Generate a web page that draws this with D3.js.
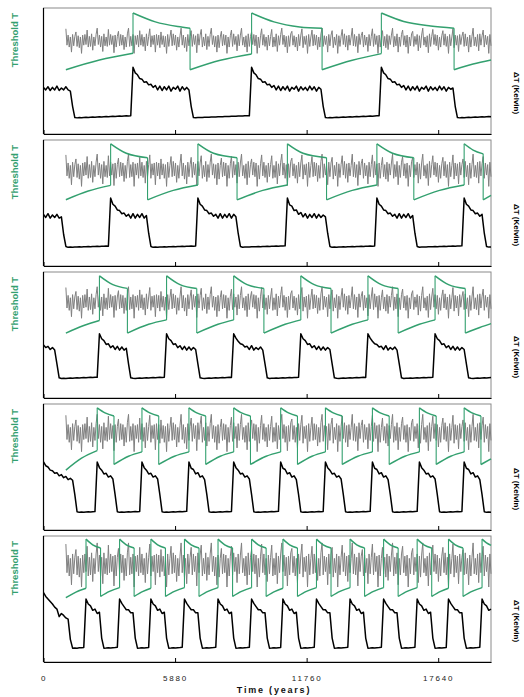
<!DOCTYPE html>
<html>
<head>
<meta charset="utf-8">
<script src="https://cdn.jsdelivr.net/npm/d3@7"></script>
<style>
  body { margin: 0; background: #fff; }
  text { font-family: "Liberation Sans", Arial, sans-serif; }
</style>
</head>
<body>
<div id="chart"></div>
<script>
// ---- data ----
const tickYears = [0, 5880, 11760, 17640];
const sampleStep = 100;      // years between ΔT samples
const forcingStep = 50;      // years between forcing samples
const forcingStart = 1000;   // forcing is shown from this year on

// forcing shape (normalised), one sample every 50 years from year 1000
const forcing = [
  0.95, -0.35, 0.45, -0.5, 0.3, -0.9, 0.5, -0.4, 0.35, 0.7, -0.45, 0.4, -0.55, 0.3, -1.0, 0.45, -0.35, 0.5, -0.3, 0.85,
  -0.5, 0.35, -0.45, 0.55, -0.75, 0.3, -0.4, 0.5, 1.0, -0.3, 0.45, -0.5, 0.35, -0.85, 0.55, -0.4, 0.3, -0.45, 0.9, -0.35,
  0.5, -0.3, 0.4, -0.95, 0.45, -0.5, 0.35, 0.75, -0.4, 0.5, -0.35, 0.45, -0.7, 0.3, -0.5, 0.55, 1.0, -0.45, 0.35, -0.4,
  0.5, -1.0, 0.4, -0.3, 0.45, -0.5, 0.8, -0.35, 0.5, -0.45, 0.3, -0.8, 0.55, -0.4, 0.35, 0.95, -0.5, 0.4, -0.3, 0.45,
  -0.9, 0.5, -0.35, 0.45, -0.55, 0.7, -0.3, 0.4, -0.5, 0.35, -1.0, 0.5, -0.45, 0.3, 0.85, -0.4, 0.55, -0.35, 0.45, -0.75,
  0.3, -0.5, 0.4, 1.0, -0.35, 0.45, -0.55, 0.3, -0.85, 0.5, -0.4, 0.35, 0.8, -0.45, 0.5, -0.3, 0.4, -0.95, 0.55, -0.35,
  0.45, 0.9, -0.5, 0.3, -0.4, 0.55, -0.7, 0.35, -0.45, 0.5, 1.0, -0.3, 0.4, -0.5, 0.35, -0.9, 0.45, -0.55, 0.3, 0.75,
  -0.4, 0.5, -0.35, 0.45, -1.0, 0.3, -0.5, 0.4, 0.85, -0.45, 0.55, -0.3, 0.35, -0.8, 0.5, -0.4, 0.45, 1.0, -0.35, 0.3,
  -0.5, 0.4, -0.9, 0.55, -0.45, 0.35, 0.7, -0.3, 0.5, -0.4, 0.45, -1.0, 0.3, -0.55, 0.4, 0.95, -0.35, 0.5, -0.45, 0.3,
  -0.75, 0.45, -0.4, 0.35, 0.9, -0.5, 0.3, -0.45, 0.55, -0.85, 0.4, -0.35, 0.5, 1.0, -0.3, 0.45, -0.5, 0.35, -0.95, 0.4,
  -0.45, 0.55, 0.75, -0.35, 0.4, -0.5, 0.3, -0.8, 0.5, -0.4, 0.45, 0.95, -0.55, 0.35, -0.3, 0.4, -1.0, 0.5, -0.45, 0.3,
  0.85, -0.4, 0.5, -0.35, 0.45, -0.7, 0.3, -0.5, 0.55, 1.0, -0.45, 0.4, -0.3, 0.35, -0.9, 0.5, -0.4, 0.45, 0.8, -0.55,
  0.3, -0.35, 0.5, -1.0, 0.4, -0.45, 0.35, 0.9, -0.3, 0.55, -0.5, 0.4, -0.75, 0.45, -0.35, 0.3, 1.0, -0.4, 0.5, -0.45,
  0.35, -0.95, 0.55, -0.3, 0.4, 0.7, -0.5, 0.45, -0.35, 0.3, -0.85, 0.5, -0.4, 0.35, 0.95, -0.45, 0.55, -0.3, 0.4, -1.0,
  0.45, -0.5, 0.3, 0.8, -0.4, 0.35, -0.55, 0.5, -0.7, 0.4, -0.3, 0.45, 1.0, -0.5, 0.35, -0.4, 0.55, -0.9, 0.3, -0.45,
  0.5, 0.85, -0.35, 0.4, -0.5, 0.45, -1.0, 0.3, -0.4, 0.55, 0.75, -0.45, 0.35, -0.3, 0.5, -0.8, 0.4, -0.55, 0.45, 1.0,
  -0.35, 0.3, -0.5, 0.4, -0.95, 0.55, -0.45, 0.35, 0.9, -0.3, 0.5, -0.4, 0.45, -0.75, 0.3, -0.5, 0.4, 0.8, -0.35, 0.55,
  -0.45, 0.35, -1.0, 0.5, -0.4, 0.3, 0.95, -0.55, 0.45, -0.35, 0.4, -0.85, 0.5, -0.3, 0.35, 0.7, -0.45, 0.55, -0.4, 0.3,
  -0.9, 0.45, -0.5, 0.35, 1.0, -0.4, 0.3, -0.45, 0.5, -0.8, 0.55, -0.35, 0.4, 0.85, -0.5, 0.45, -0.3, 0.35, -1.0, 0.5,
  -0.4
];
const forcingMid = [74, 76, 75.8, 77, 77];
const forcingAmp = [10, 12.8, 12.5, 14.8, 17.5];

// threshold T, [year, value]; a repeated year is a jump
const threshold1 = [
  [1000, 51], [2500, 58.7], [4000, 64],
  [4000, 96], [5000, 89], [6000, 85.3], [6550, 84],
  [6550, 51], [7900, 58.5], [9300, 63.5],
  [9300, 96], [10300, 89], [11450, 85], [12450, 84],
  [12450, 51], [13800, 58.5], [15100, 63.8],
  [15100, 96], [16100, 89.3], [17300, 85.7], [18350, 84],
  [18350, 51], [19200, 55.5], [20000, 58.8]
];
const threshold2 = [
  [1000, 52.6], [2000, 59.5], [3000, 64],
  [3000, 97], [3700, 89.5], [4650, 86],
  [4650, 52.5], [5800, 60], [6900, 64.3],
  [6900, 97], [7600, 89.5], [8650, 86],
  [8650, 52.5], [9800, 60], [10900, 64.3],
  [10900, 97], [11600, 89.5], [12650, 86],
  [12650, 52.5], [13800, 60], [14900, 64.3],
  [14900, 97], [15600, 89.5], [16550, 86],
  [16550, 52.5], [17700, 60], [18800, 64.3],
  [18800, 97], [19200, 92], [19650, 89],
  [19650, 52.5], [20000, 56]
];
const threshold3 = [
  [1000, 51.5], [1800, 57.5], [2500, 61.5],
  [2500, 97], [3100, 90], [3750, 87],
  [3750, 51.5], [4700, 58.5], [5500, 62],
  [5500, 97], [6100, 90], [6850, 87],
  [6850, 51.5], [7800, 58.5], [8500, 62],
  [8500, 97], [9100, 90], [9850, 87],
  [9850, 51.5], [10800, 58.5], [11500, 62],
  [11500, 97], [12100, 90], [12850, 87],
  [12850, 51.5], [13800, 58.5], [14500, 62],
  [14500, 97], [15100, 90], [15850, 87],
  [15850, 51.5], [16800, 58.5], [17500, 62],
  [17500, 97], [18100, 90], [18850, 87],
  [18850, 51.5], [19500, 56], [20000, 59]
];
const threshold4 = [
  [1000, 47.5], [1700, 57], [2400, 63],
  [2400, 97], [2750, 93], [3150, 90.5],
  [3150, 52], [3800, 58.5], [4400, 62],
  [4400, 97], [4750, 93], [5150, 90.5],
  [5150, 52], [5850, 58.5], [6500, 62],
  [6500, 97], [6850, 93], [7250, 90.5],
  [7250, 52], [7900, 58.5], [8500, 62],
  [8500, 97], [8850, 93], [9250, 90.5],
  [9250, 52], [9950, 58.5], [10600, 62],
  [10600, 97], [10950, 93], [11350, 90.5],
  [11350, 52], [12000, 58.5], [12600, 62],
  [12600, 97], [12950, 93], [13350, 90.5],
  [13350, 52], [14050, 58.5], [14700, 62],
  [14700, 97], [15050, 93], [15450, 90.5],
  [15450, 52], [16150, 58.5], [16800, 62],
  [16800, 97], [17150, 93], [17550, 90.5],
  [17550, 52], [18200, 58.5], [18800, 62],
  [18800, 97], [19150, 93], [19550, 90.5],
  [19550, 52], [20000, 56.5]
];
const threshold5 = [
  [1000, 51], [1450, 55.5], [1900, 58.5],
  [1900, 97.5], [2200, 93], [2550, 90.5],
  [2550, 52], [2950, 56], [3400, 59],
  [3400, 97.5], [3700, 93], [4050, 90.5],
  [4050, 52], [4450, 56], [4800, 58.5],
  [4800, 97.5], [5100, 93], [5450, 90.5],
  [5450, 52], [5850, 56], [6300, 59],
  [6300, 97.5], [6600, 93], [6950, 90.5],
  [6950, 52], [7350, 56], [7800, 59],
  [7800, 97.5], [8100, 93], [8450, 90.5],
  [8450, 52], [8850, 56], [9300, 59],
  [9300, 97.5], [9600, 93], [9950, 90.5],
  [9950, 52], [10350, 56], [10700, 58.5],
  [10700, 97.5], [11000, 93], [11350, 90.5],
  [11350, 52], [11750, 56], [12200, 59],
  [12200, 97.5], [12500, 93], [12850, 90.5],
  [12850, 52], [13250, 56], [13700, 59],
  [13700, 97.5], [14000, 93], [14350, 90.5],
  [14350, 52], [14750, 56], [15200, 59],
  [15200, 97.5], [15500, 93], [15850, 90.5],
  [15850, 52], [16250, 56], [16700, 59],
  [16700, 97.5], [17000, 93], [17350, 90.5],
  [17350, 52], [17750, 56], [18100, 58.5],
  [18100, 97.5], [18400, 93], [18750, 90.5],
  [18750, 52], [19150, 56], [19600, 59],
  [19600, 97.5], [19800, 94.5], [20000, 92.5]
];

// ΔT, one sample every 100 years from year 0
const deltaT1 = [
  37, 35, 37.5, 34.5, 37, 35, 38, 34.5, 36.5, 35, 37.5, 35, 34,
  22, 13,
  12.8, 13, 12.9, 13.1, 13.2, 13.1, 13.3, 13.4, 13.3, 13.5, 13.6, 13.5, 13.7, 13.8, 13.7, 13.9, 14, 13.9, 14.1, 14.2, 14.1, 14.3, 14.4, 14.3, 14.5,
  53, 48.5, 47, 44, 43.5, 41, 41.5, 39, 39.5, 37, 38.5, 35, 38, 34.5, 37.5, 35, 38, 34, 37, 35.5, 38, 34, 37.5, 35, 37, 35,
  22, 13,
  12.9, 13, 13.1, 13, 13.2, 13.3, 13.2, 13.4, 13.5, 13.4, 13.6, 13.7, 13.6, 13.8, 13.9, 13.8, 14, 14.1, 14, 14.2, 14.3, 14.2, 14.4, 14.5, 14.4,
  53, 48.5, 47, 44, 43.5, 41, 41.5, 39, 39.5, 37, 38.5, 35, 38, 34.5, 37.5, 35, 38, 34, 37, 35.5, 38, 34, 37.5, 35, 37, 34.5, 38, 35, 37.5, 34, 37, 35.5,
  22, 13,
  12.8, 13, 12.9, 13.1, 13.2, 13.1, 13.3, 13.4, 13.3, 13.5, 13.6, 13.5, 13.7, 13.8, 13.7, 13.9, 14, 13.9, 14.1, 14.2, 14.1, 14.3, 14.4, 14.5,
  53, 48.5, 47, 44, 43.5, 41, 41.5, 39, 39.5, 37, 38.5, 35, 38, 34.5, 37.5, 35, 38, 34, 37, 35.5, 38, 34, 37.5, 35, 37, 34.5, 38, 35, 37.5, 34, 37, 35.5, 36.5,
  22, 13,
  12.8, 13, 12.9, 13.1, 13.2, 13.1, 13.3, 13.4, 13.3, 13.5, 13.6, 13.5, 13.7, 13.8, 13.7
];
const deltaT2 = [
  41, 38.5, 41.5, 38, 40.5, 38.5, 41, 38, 39,
  25, 15.5,
  14.8, 15, 14.9, 15.1, 15, 15.2, 15.1, 15.3, 15.2, 15.4, 15.3, 15.5, 15.4, 15.6, 15.5, 15.7, 15.6, 15.8, 15.7,
  54, 49, 47.5, 44.5, 44, 41.5, 42, 39.5, 41, 38, 41.5, 38, 41, 38.5, 41.5, 38, 40,
  26, 15.5,
  14.8, 15, 14.9, 15.1, 15, 15.2, 15.1, 15.3, 15.2, 15.4, 15.3, 15.5, 15.4, 15.6, 15.5, 15.7, 15.6, 15.8, 15.7, 15.9,
  54, 49, 47.5, 44.5, 44, 41.5, 42, 39.5, 41, 38, 41.5, 38, 41, 38.5, 41.5, 38, 41, 39,
  26, 15.5,
  14.9, 15, 15.1, 15, 15.2, 15.3, 15.2, 15.4, 15.3, 15.5, 15.4, 15.6, 15.5, 15.7, 15.6, 15.8, 15.7, 15.9, 15.8, 16,
  54, 48.5, 47.5, 44, 44.5, 41, 42.5, 39, 41.5, 38, 41, 38.5, 41.5, 38, 41, 38.5, 40.5, 39,
  26, 15.5,
  14.8, 15, 14.9, 15.1, 15, 15.2, 15.1, 15.3, 15.2, 15.4, 15.3, 15.5, 15.4, 15.6, 15.5, 15.7, 15.6, 15.8, 15.7, 15.9,
  54, 49, 47.5, 44.5, 44, 41.5, 42, 39.5, 41, 38, 41.5, 38, 41, 38.5, 41.5, 38, 40,
  26, 15.5,
  14.9, 15, 15.1, 15, 15.2, 15.3, 15.2, 15.4, 15.3, 15.5, 15.4, 15.6, 15.5, 15.7, 15.6, 15.8, 15.7, 15.9, 15.8, 16,
  54, 49, 47.5, 44.5, 44, 41.5, 42, 39.5, 41,
  26, 15.5, 15, 15.1
];
const deltaT3 = [
  42, 40, 41, 38.5, 40, 38,
  27, 16,
  15.5, 15.6, 15.5, 15.7, 15.8, 15.7, 15.9, 16, 15.9, 16.1, 16.2, 16.1, 16.3, 16.4, 16.3, 16.5, 16.4,
  51, 47, 45.5, 42.5, 43, 40, 41.5, 38.5, 41, 38, 40.5, 38, 39.5,
  27, 16,
  15.6, 15.5, 15.7, 15.8, 15.7, 15.9, 16, 15.9, 16.1, 16.2, 16.1, 16.3, 16.4, 16.3, 16.5,
  51, 47, 45.5, 42.5, 43, 40, 41.5, 38.5, 41, 38, 40.5, 38, 40, 38.5,
  27, 16,
  15.6, 15.5, 15.7, 15.8, 15.7, 15.9, 16, 15.9, 16.1, 16.2, 16.1, 16.3, 16.4, 16.3,
  51, 47.5, 45, 43, 42.5, 40.5, 41, 38.5, 41.5, 38, 40, 38.5, 40.5, 38,
  27, 16,
  15.5, 15.7, 15.6, 15.8, 15.7, 15.9, 16, 15.9, 16.1, 16.2, 16.1, 16.3, 16.2, 16.4,
  51, 47, 45.5, 42.5, 43, 40, 41.5, 38.5, 41, 38, 40.5, 38, 40, 38.5,
  27, 16,
  15.6, 15.5, 15.7, 15.8, 15.7, 15.9, 16, 15.9, 16.1, 16.2, 16.1, 16.3, 16.4, 16.3,
  51, 47.5, 45, 43, 42.5, 40.5, 41, 38.5, 41.5, 38, 40, 38.5, 40.5, 38,
  27, 16,
  15.5, 15.7, 15.6, 15.8, 15.7, 15.9, 16, 15.9, 16.1, 16.2, 16.1, 16.3, 16.2, 16.4,
  51, 47, 45.5, 42.5, 43, 40, 41.5, 38.5, 41, 38, 40.5, 38, 40, 38.5,
  27, 16,
  15.6, 15.5, 15.7, 15.8, 15.7, 15.9, 16, 15.9, 16.1, 16.2
];
const deltaT4 = [
  54, 51, 50, 47.5, 47, 45, 45.5, 43, 44, 41.5, 42.5, 40, 41, 39.5,
  28, 14.5,
  14, 14.2, 14.1, 14.3, 14.4, 14.3, 14.5, 14.6,
  54, 49.5, 47.5, 44.5, 45, 42, 43, 40.5,
  28, 14.5,
  14, 14.2, 14.1, 14.3, 14.4, 14.3, 14.5, 14.6, 14.5, 14.7,
  54, 49.5, 47.5, 44.5, 45, 42, 43, 40.5,
  28, 14.5,
  14, 14.2, 14.1, 14.3, 14.4, 14.3, 14.5, 14.6, 14.5, 14.7, 14.8,
  54, 49, 48, 44.5, 45.5, 42, 43, 40,
  28, 14.5,
  14, 14.2, 14.1, 14.3, 14.4, 14.3, 14.5, 14.6, 14.5, 14.7,
  54, 49.5, 47.5, 44.5, 45, 42, 43, 40.5,
  28, 14.5,
  14, 14.2, 14.1, 14.3, 14.4, 14.3, 14.5, 14.6, 14.5, 14.7, 14.8,
  54, 49, 48, 44.5, 45.5, 42, 43, 40,
  28, 14.5,
  14, 14.2, 14.1, 14.3, 14.4, 14.3, 14.5, 14.6, 14.5, 14.7,
  54, 49.5, 47.5, 44.5, 45, 42, 43, 40.5,
  28, 14.5,
  14, 14.2, 14.1, 14.3, 14.4, 14.3, 14.5, 14.6, 14.5, 14.7, 14.8,
  54, 49, 48, 44.5, 45.5, 42, 43, 40,
  28, 14.5,
  14, 14.2, 14.1, 14.3, 14.4, 14.3, 14.5, 14.6, 14.5, 14.7, 14.8,
  54, 49.5, 47.5, 44.5, 45, 42, 43, 40.5,
  28, 14.5,
  14, 14.2, 14.1, 14.3, 14.4, 14.3, 14.5, 14.6, 14.5, 14.7,
  54, 49, 48, 44.5, 45.5, 42, 43, 40,
  28, 14.5,
  14, 14.2, 14.1
];
const deltaT5 = [
  55, 52, 50, 48, 46, 43.5, 42, 36, 38.5, 37, 35, 34,
  18, 11,
  11.2, 11, 11.3, 11.4, 11.6,
  50, 46, 44.5, 41, 42, 38.5, 39.5,
  19, 11,
  11.1, 11.3, 11.2, 11.4, 11.5, 11.7,
  50, 46.5, 44, 41.5, 41.5, 39, 39,
  19, 11,
  11.1, 11.3, 11.2, 11.4, 11.6,
  50, 46, 44.5, 41, 42, 38.5, 39.5,
  19, 11,
  11.1, 11.3, 11.2, 11.4, 11.5, 11.7,
  50, 46.5, 44, 41.5, 41.5, 39, 39,
  19, 11,
  11.1, 11.3, 11.2, 11.4, 11.5, 11.7,
  50, 46, 44.5, 41, 42, 38.5, 39.5,
  19, 11,
  11.1, 11.3, 11.2, 11.4, 11.5, 11.7,
  50, 46.5, 44, 41.5, 41.5, 39, 39,
  19, 11,
  11.1, 11.3, 11.2, 11.4, 11.6,
  50, 46, 44.5, 41, 42, 38.5, 39.5,
  19, 11,
  11.1, 11.3, 11.2, 11.4, 11.5, 11.7,
  50, 46.5, 44, 41.5, 41.5, 39, 39,
  19, 11,
  11.1, 11.3, 11.2, 11.4, 11.5, 11.7,
  50, 46, 44.5, 41, 42, 38.5, 39.5,
  19, 11,
  11.1, 11.3, 11.2, 11.4, 11.5, 11.7,
  50, 46.5, 44, 41.5, 41.5, 39, 39,
  19, 11,
  11.1, 11.3, 11.2, 11.4, 11.5, 11.7,
  50, 46, 44.5, 41, 42, 38.5, 39.5,
  19, 11,
  11.1, 11.3, 11.2, 11.4, 11.6,
  50, 46.5, 44, 41.5, 41.5, 39, 39,
  19, 11,
  11.1, 11.3, 11.2, 11.4, 11.5, 11.7,
  50, 46, 44.5, 41, 42
];

const thresholds = [threshold1, threshold2, threshold3, threshold4, threshold5];
const deltaTs = [deltaT1, deltaT2, deltaT3, deltaT4, deltaT5];

// ---- layout ----
const width = 524, height = 697;
const left = 43.5, right = 491;
const panelTops = [8, 140, 272, 404, 536];
const panelH = 126;
const green = "#33a06f";

const svg = d3.select("#chart").append("svg")
    .attr("width", width).attr("height", height);

const x = d3.scaleLinear().domain([0, 20000]).range([left, right]);

panelTops.forEach((top, p) => {
    const y = d3.scaleLinear().domain([0, 100]).range([top + panelH, top]);
    const g = svg.append("g");

    g.append("rect")
        .attr("x", left).attr("y", top)
        .attr("width", right - left).attr("height", panelH)
        .attr("fill", "none").attr("stroke", "#8a8a8a").attr("stroke-width", 1);

    // forcing (gray)
    const forcingLine = d3.line()
        .x((d, i) => x(forcingStart + i * forcingStep))
        .y(d => y(forcingMid[p] + forcingAmp[p] * d));
    g.append("path").datum(forcing)
        .attr("d", forcingLine)
        .attr("fill", "none").attr("stroke", "#808080").attr("stroke-width", 1);

    // threshold T (green): smooth branches joined by vertical jumps
    const thr = thresholds[p];
    const segs = [];
    let cur = [];
    thr.forEach((pt, k) => {
        if (k > 0 && pt[0] === thr[k - 1][0]) {
            segs.push(cur);
            cur = [];
            g.append("line")
                .attr("x1", x(pt[0])).attr("x2", x(pt[0]))
                .attr("y1", y(thr[k - 1][1])).attr("y2", y(pt[1]))
                .attr("stroke", green).attr("stroke-width", 1.1);
        }
        cur.push(pt);
    });
    segs.push(cur);
    const thrLine = d3.line().x(d => x(d[0])).y(d => y(d[1])).curve(d3.curveMonotoneX);
    g.selectAll(null).data(segs).join("path")
        .attr("d", thrLine)
        .attr("fill", "none").attr("stroke", green).attr("stroke-width", 1.5);

    // ΔT (black)
    const dtLine = d3.line()
        .x((d, i) => x(i * sampleStep))
        .y(d => y(d));
    g.append("path").datum(deltaTs[p])
        .attr("d", dtLine)
        .attr("fill", "none").attr("stroke", "#000").attr("stroke-width", 1.5)
        .attr("stroke-linejoin", "round");

    // bottom axis with inward ticks
    const axis = d3.axisBottom(x)
        .tickValues(tickYears)
        .tickSizeInner(-4).tickSizeOuter(0).tickPadding(13)
        .tickFormat(p === 4 ? d => d : () => "");
    const ax = g.append("g")
        .attr("transform", `translate(0,${top + panelH})`)
        .call(axis);
    ax.select(".domain").attr("stroke", "#000").attr("stroke-width", 1.2);
    ax.selectAll(".tick line").attr("stroke", "#000");
    ax.selectAll(".tick text")
        .attr("font-size", 8).attr("fill", "#222")
        .attr("letter-spacing", "1.8px")
        .style("font-family", "'Liberation Sans', Arial, sans-serif");

    // left edge in black
    g.append("line")
        .attr("x1", left).attr("x2", left)
        .attr("y1", top).attr("y2", top + panelH)
        .attr("stroke", "#000").attr("stroke-width", 1.2);

    g.append("text")
        .attr("transform", `translate(18,${top + 32}) rotate(-90)`)
        .attr("text-anchor", "middle")
        .attr("font-size", 9.5).attr("font-weight", "bold")
        .attr("fill", green)
        .text("Threshold T");

    g.append("text")
        .attr("transform", `translate(514,${top + 85}) rotate(90)`)
        .attr("text-anchor", "middle")
        .attr("font-size", 8).attr("font-weight", "bold")
        .attr("fill", "#000")
        .text("ΔT (Kelvin)");
});

svg.append("text")
    .attr("x", 274).attr("y", 693)
    .attr("text-anchor", "middle")
    .attr("font-size", 9).attr("font-weight", "bold")
    .attr("letter-spacing", "1.8px")
    .attr("fill", "#111")
    .text("Time (years)");
</script>
</body>
</html>
